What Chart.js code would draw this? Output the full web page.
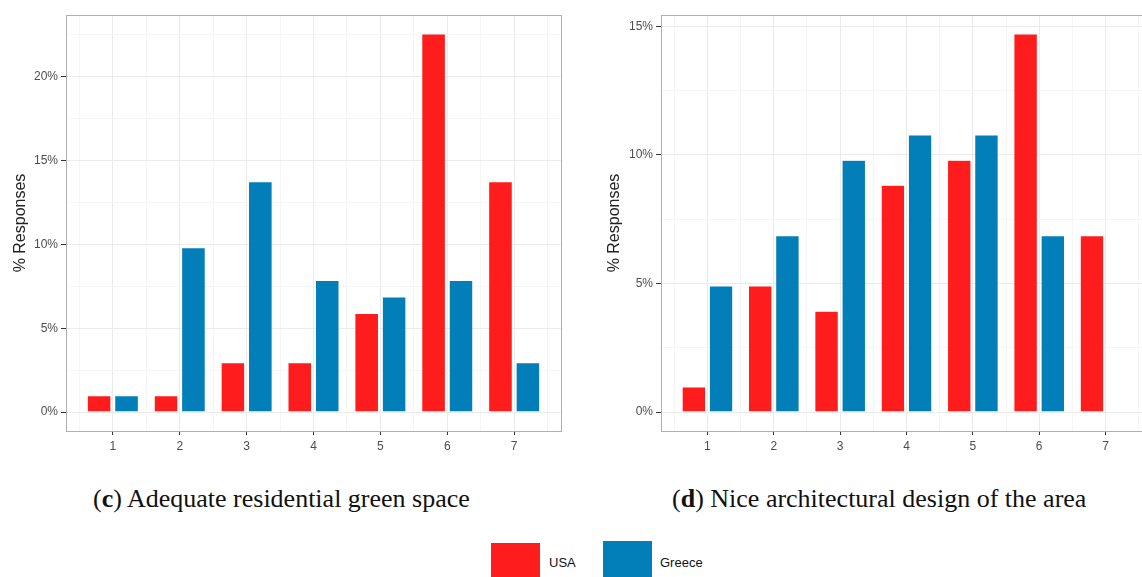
<!DOCTYPE html>
<html lang="en">
<head>
    <meta charset="UTF-8">
    <title>Residential environment responses</title>
    <style>
        body {
            margin: 0;
            width: 1142px;
            height: 577px;
            overflow: hidden;
            background: white;
            position: relative;
            font-family: "Liberation Sans", Arial, sans-serif;
        }
        .panel { position: absolute; top: 0; height: 450px; }
        #left { left: 0; width: 569px; }
        #right { left: 570px; width: 590px; }
        .caption {
            position: absolute;
            top: 484px;
            font-family: "Liberation Serif", "DejaVu Serif", serif;
            font-size: 26px;
            color: #111;
            white-space: nowrap;
        }
        .legend-box { position: absolute; width: 49px; height: 40px; top: 543px; }
        .legend-label { position: absolute; top: 555px; font-size: 13px; color: #111; }
    </style>
    <script src="https://cdn.jsdelivr.net/npm/chart.js"></script>
</head>
<body>

<div class="panel" id="left"><canvas id="chartC"></canvas></div>
<div class="panel" id="right"><canvas id="chartD"></canvas></div>

<div class="caption" style="left: 93px;">(<b>c</b>) Adequate residential green space</div>
<div class="caption" style="left: 672px;">(<b>d</b>) Nice architectural design of the area</div>

<div class="legend-box" style="left: 491px; background: #ff1c1c;"></div>
<div class="legend-label" style="left: 549px;">USA</div>
<div class="legend-box" style="left: 603px; top: 541px; background: #027eb8;"></div>
<div class="legend-label" style="left: 660px;">Greece</div>

<script>
    // Likert scale categories
    const categories = [1, 2, 3, 4, 5, 6, 7];

    // (c) Adequate residential green space, % responses
    const usaGreen = [0.98, 0.98, 2.94, 2.94, 5.88, 22.55, 13.73];
    const greeceGreen = [0.98, 9.80, 13.73, 7.84, 6.86, 7.84, 2.94];

    // (d) Nice architectural design of the area, % responses
    const usaDesign = [0.98, 4.90, 3.92, 8.82, 9.80, 14.71, 6.86];
    const greeceDesign = [4.90, 6.86, 9.80, 10.78, 10.78, 6.86, 0];

    // tick positions (majors labelled, minors only as grid)
    const yTicksGreen = [0, 2.5, 5, 7.5, 10, 12.5, 15, 17.5, 20, 22.5];
    const yTicksDesign = [0, 2.5, 5, 7.5, 10, 12.5, 15];
    const xTicks = [0.5, 1, 1.5, 2, 2.5, 3, 3.5, 4, 4.5, 5, 5.5, 6, 6.5, 7, 7.5];

    const red = '#ff1c1c';
    const blue = '#027eb8';

    // grey box around the plot panel
    const panelBorder = {
        id: 'panelBorder',
        afterDraw(chart) {
            const a = chart.chartArea;
            const ctx = chart.ctx;
            ctx.save();
            ctx.strokeStyle = '#b0b0b0';
            ctx.lineWidth = 1;
            ctx.strokeRect(a.left + 0.5, a.top + 0.5, a.right - a.left, a.bottom - a.top);
            ctx.restore();
        }
    };

    function tickVal(c) {
        return c.tick ? c.tick.value : NaN;
    }
    function isMajorX(c) {
        const v = tickVal(c);
        return Math.abs(v - Math.round(v)) < 1e-6;
    }
    function isMajorY(c) {
        return tickVal(c) % 5 === 0;
    }

    function makeChart(id, usa, greece, yTicks, yMax, yAxisWidth, titlePad) {
        const pts = arr => categories.map((c, i) => ({ x: c, y: arr[i] }));
        return new Chart(document.getElementById(id), {
            type: 'bar',
            data: {
                datasets: [
                    { label: 'USA', data: pts(usa), backgroundColor: red, borderColor: 'rgba(255,255,255,0.5)', borderWidth: 0.5 },
                    { label: 'Greece', data: pts(greece), backgroundColor: blue, borderColor: 'rgba(255,255,255,0.5)', borderWidth: 0.5 }
                ]
            },
            options: {
                responsive: true,
                maintainAspectRatio: false,
                animation: false,
                // bar ruler uses the half-unit grid ticks, so the group spans ~1.64 of that
                categoryPercentage: 1.64,
                barPercentage: 0.86,
                layout: { padding: { top: 15, right: 8, left: 0, bottom: 0 } },
                plugins: { legend: { display: false }, tooltip: { enabled: false } },
                scales: {
                    x: {
                        type: 'linear',
                        offset: false,
                        min: 0.3,
                        max: 7.7,
                        afterBuildTicks: s => { s.ticks = xTicks.map(v => ({ value: v })); },
                        afterFit: s => { s.height = 19; },
                        border: { display: false },
                        grid: {
                            offset: false,
                            color: c => isMajorX(c) ? '#ebebeb' : '#f6f6f6',
                            tickColor: c => isMajorX(c) ? '#333' : 'rgba(0,0,0,0)',
                            tickLength: 4
                        },
                        ticks: {
                            autoSkip: false,
                            maxRotation: 0,
                            padding: 4,
                            color: '#4d4d4d',
                            font: { family: 'Liberation Sans, Arial', size: 12 },
                            callback: v => Math.abs(v - Math.round(v)) < 1e-6 ? String(v) : ''
                        }
                    },
                    y: {
                        min: -yMax * 0.05,
                        max: yMax * 1.05,
                        afterBuildTicks: s => { s.ticks = yTicks.map(v => ({ value: v })); },
                        afterFit: s => { s.width = yAxisWidth; },
                        border: { display: false },
                        grid: {
                            color: c => isMajorY(c) ? '#ebebeb' : '#f6f6f6',
                            tickColor: c => isMajorY(c) ? '#333' : 'rgba(0,0,0,0)',
                            tickLength: 5
                        },
                        ticks: {
                            padding: 3,
                            color: '#4d4d4d',
                            font: { family: 'Liberation Sans, Arial', size: 12 },
                            callback: v => v % 5 === 0 ? v + '%' : ''
                        },
                        title: {
                            display: true,
                            text: '% Responses',
                            color: '#222',
                            padding: { top: titlePad, bottom: 0 },
                            font: { family: 'Liberation Sans, Arial', size: 16 }
                        }
                    }
                }
            },
            plugins: [panelBorder]
        });
    }

    makeChart('chartC', usaGreen, greeceGreen, yTicksGreen, Math.max(...usaGreen, ...greeceGreen), 66, 11);
    makeChart('chartD', usaDesign, greeceDesign, yTicksDesign, Math.max(...usaDesign, ...greeceDesign), 91, 35);
</script>

</body>
</html>
